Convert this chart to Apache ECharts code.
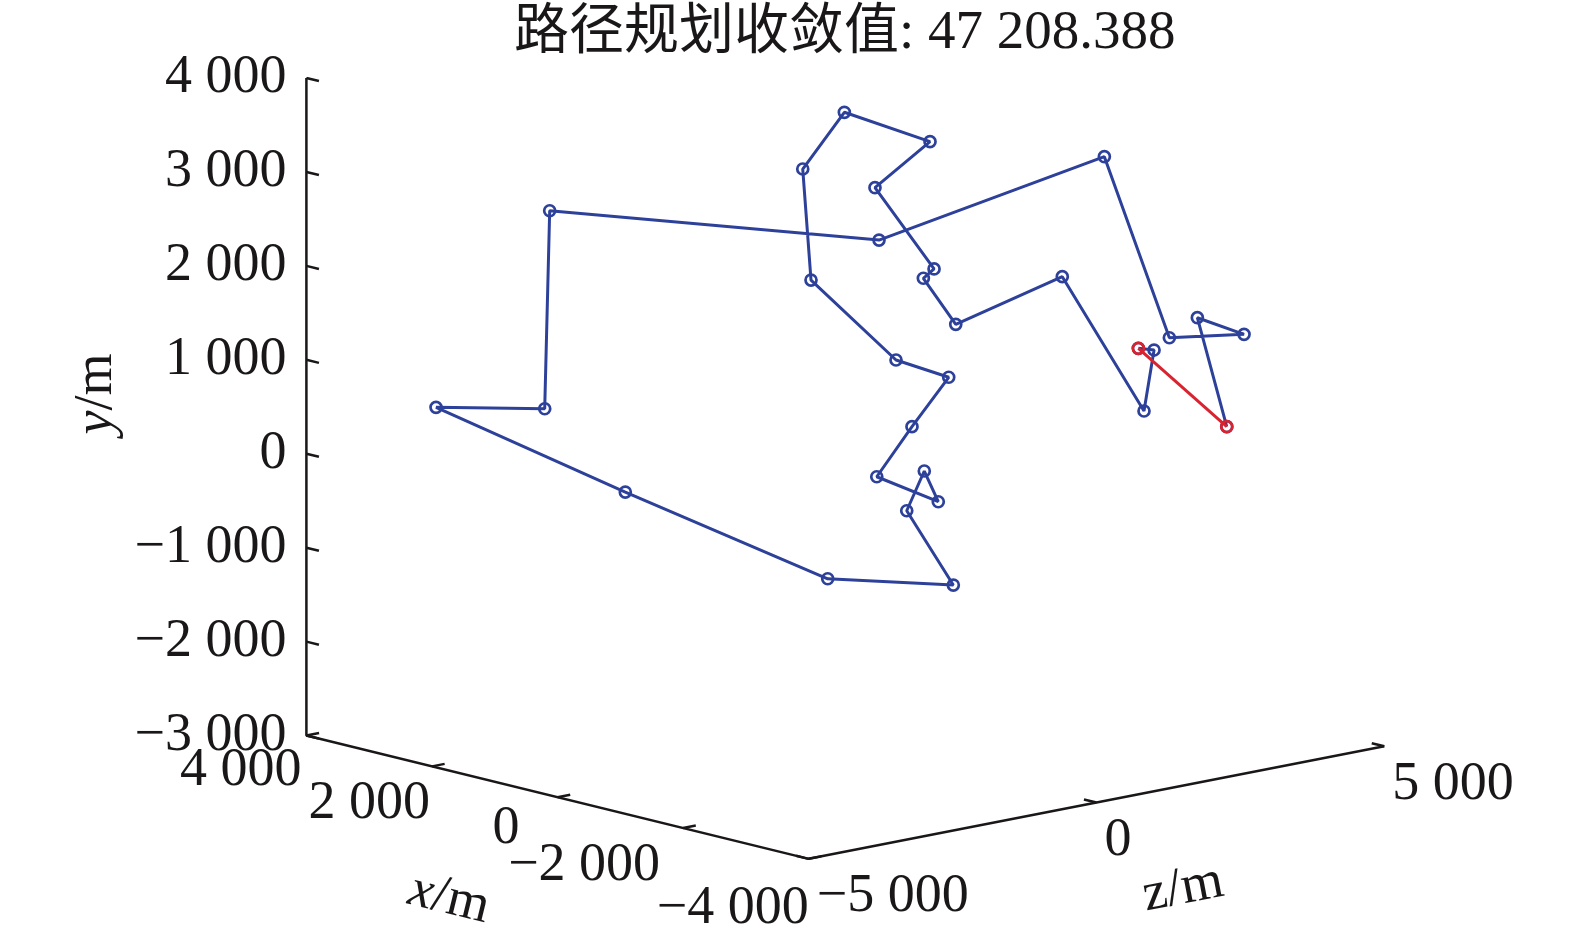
<!DOCTYPE html>
<html>
<head>
<meta charset="utf-8">
<script src="https://cdn.jsdelivr.net/npm/echarts@6/dist/echarts.min.js"></script>
<style>
    html, body { margin: 0; padding: 0; background: #fff; }
    #container { width: 1575px; height: 941px; }
</style>
</head>
<body>
<div id="container"></div>
<script>
// 路径点, 已经投影到视图平面 (横向 u, 纵向 v, 单位跟 y 轴一致)
var pathU = [9798, 9485, 9982, 9187, 8495, 6096, 2590, 2537, 1380, 3395, 5550, 6887, 6391, 6578, 6727, 6072,
    6447, 6838, 6277, 5372, 5284, 5727, 6639, 6053, 6682, 6568, 6913, 8047, 8917, 9024, 8857]
var pathV = [288, 1448, 1271, 1235, 3162, 2275, 2587, 479, 494, -408, -1331, -1398, -607, -184, -511, -245,
    288, 814, 998, 1849, 3031, 3635, 3322, 2832, 1967, 1868, 1378, 1885, 455, 1104, 1122]

// 三个轴的刻度
var yTicks = [4000, 3000, 2000, 1000, 0, -1000, -2000, -3000]
var xTicks = [4000, 2000, 0, -2000, -4000]
var zTicks = [-5000, 0, 5000]

var titleText = '路径规划收敛值: 47 208.388'

var blue = '#2d419a'
var red = '#d9232e'
var black = '#1a1718'
var fontFamily = "'Liberation Serif', 'Noto Sans CJK SC', serif"

// x 轴刻度文字的偏移 (matlab 摆得不太整齐, 照着图来)
var xLabelOffsets = [[-5, 35], [-2, 37], [-38, 32], [-23, 38], [0, 50]]

// 3D 盒子 -> 视图平面 (斜投影, 系数从图上量的)
var project = function (x, y, z) {
    var dx = 4000 - x
    var dz = z + 5000
    return [dx * 0.6684 + dz * 0.6128, y - dx * 0.1641 + dz * 0.1198]
}

// 4 000 这种写法, 负号用 −
var fmt = function (v) {
    var s = String(Math.abs(v)).replace(/\B(?=(\d{3})+(?!\d))/g, ' ')
    return (v < 0 ? '−' : '') + s
}

const chartInit = function () {
    var myChart = echarts.init(document.getElementById('container'))

    var pxPerUnit = (941 - 78 - 17.6) / 9000
    var xMax = (1575 - 306.4) / pxPerUnit

    // 轴线: y 轴 + 底下的 x 轴 + z 轴
    var axisLine = [
        project(4000, 4000, -5000),
        project(4000, -3000, -5000),
        project(-4000, -3000, -5000),
        project(-4000, -3000, 5000),
    ]

    // 刻度线
    var tickSegs = []
    yTicks.forEach(function (t) {
        tickSegs.push({ coords: [project(4000, t, -5000), project(3800, t, -5000)] })
    })
    xTicks.forEach(function (t) {
        tickSegs.push({ coords: [project(t, -3000, -5000), project(t, -3000, -4780)] })
    })
    zTicks.forEach(function (t) {
        tickSegs.push({ coords: [project(-4000, -3000, t), project(-3800, -3000, t)] })
    })

    var xLabelData = xTicks.map(function (t, i) {
        return {
            value: project(t, -3000, -5000).concat([t]),
            label: { offset: xLabelOffsets[i] },
        }
    })
    var zLabelData = zTicks.map(function (t) {
        return project(-4000, -3000, t).concat([t])
    })

    var pathData = pathU.map(function (u, i) {
        return [u, pathV[i]]
    })
    var n = pathData.length
    var closeData = [pathData[n - 1], pathData[0]]

    var tickLabel = {
        show: true,
        fontSize: 54,
        fontFamily: fontFamily,
        color: black,
        opacity: 1,
        textBorderWidth: 0,
        formatter: function (p) {
            return fmt(p.value[2])
        },
    }

    var option = {
        animation: false,
        title: {
            text: titleText,
            left: 514,
            top: 6,
            padding: 0,
            textStyle: {
                fontSize: 55,
                fontWeight: 'normal',
                fontFamily: fontFamily,
                color: black,
            },
        },
        grid: {
            left: 306.4,
            right: 0,
            top: 78,
            bottom: 17.6,
        },
        xAxis: {
            type: 'value',
            min: 0,
            max: xMax,
            show: false,
        },
        yAxis: {
            type: 'value',
            min: -5000,
            max: 4000,
            interval: 1000,
            axisLine: { show: false },
            axisTick: { show: false },
            splitLine: { show: false },
            axisLabel: {
                margin: 20,
                fontSize: 54,
                fontFamily: fontFamily,
                color: black,
                formatter: function (v) {
                    return v < -3000 ? '' : fmt(v)
                },
            },
        },
        graphic: [
            {
                type: 'text',
                x: 97,
                y: 394,
                rotation: Math.PI / 2,
                style: {
                    text: '{i|y}/m',
                    fontSize: 54,
                    fontFamily: fontFamily,
                    fill: black,
                    align: 'center',
                    verticalAlign: 'middle',
                    rich: { i: { fontStyle: 'italic', fontSize: 54, fontFamily: fontFamily } },
                },
            },
            {
                type: 'text',
                x: 449,
                y: 899,
                rotation: -0.24,
                style: {
                    text: '{i|x}/m',
                    fontSize: 54,
                    fontFamily: fontFamily,
                    fill: black,
                    align: 'center',
                    verticalAlign: 'middle',
                    rich: { i: { fontStyle: 'italic', fontSize: 54, fontFamily: fontFamily } },
                },
            },
            {
                type: 'text',
                x: 1183,
                y: 889,
                rotation: 0.19,
                style: {
                    text: 'z/m',
                    fontSize: 54,
                    fontFamily: fontFamily,
                    fill: black,
                    align: 'center',
                    verticalAlign: 'middle',
                },
            },
        ],
        series: [
            {
                name: 'axis',
                type: 'line',
                data: axisLine,
                symbol: 'none',
                clip: false,
                silent: true,
                lineStyle: { color: black, width: 2.5 },
                z: 1,
            },
            {
                name: 'ticks',
                type: 'lines',
                coordinateSystem: 'cartesian2d',
                data: tickSegs,
                silent: true,
                lineStyle: { color: black, width: 2.5, opacity: 1 },
                z: 1,
            },
            {
                name: 'path',
                type: 'line',
                data: pathData,
                symbol: 'circle',
                symbolSize: 11,
                clip: false,
                lineStyle: { color: blue, width: 3 },
                itemStyle: { color: 'rgba(255,255,255,0)', borderColor: blue, borderWidth: 2.7 },
                emphasis: { disabled: true },
                z: 3,
            },
            {
                name: 'close',
                type: 'line',
                data: closeData,
                symbol: 'circle',
                symbolSize: 11,
                clip: false,
                lineStyle: { color: red, width: 3 },
                itemStyle: { color: 'rgba(255,255,255,0)', borderColor: red, borderWidth: 2.7 },
                emphasis: { disabled: true },
                z: 4,
            },
            {
                name: 'xLabels',
                type: 'scatter',
                data: xLabelData,
                symbolSize: 0.1,
                clip: false,
                silent: true,
                itemStyle: { opacity: 0 },
                label: Object.assign({}, tickLabel, {
                    position: 'inside',
                    align: 'right',
                    verticalAlign: 'middle',
                }),
                z: 2,
            },
            {
                name: 'zLabels',
                type: 'scatter',
                data: zLabelData,
                symbolSize: 0.1,
                clip: false,
                silent: true,
                itemStyle: { opacity: 0 },
                label: Object.assign({}, tickLabel, {
                    position: 'inside',
                    align: 'left',
                    verticalAlign: 'middle',
                    offset: [8, 38],
                }),
                z: 2,
            },
        ],
    }

    myChart.setOption(option, true)
}

chartInit()
</script>
</body>
</html>
